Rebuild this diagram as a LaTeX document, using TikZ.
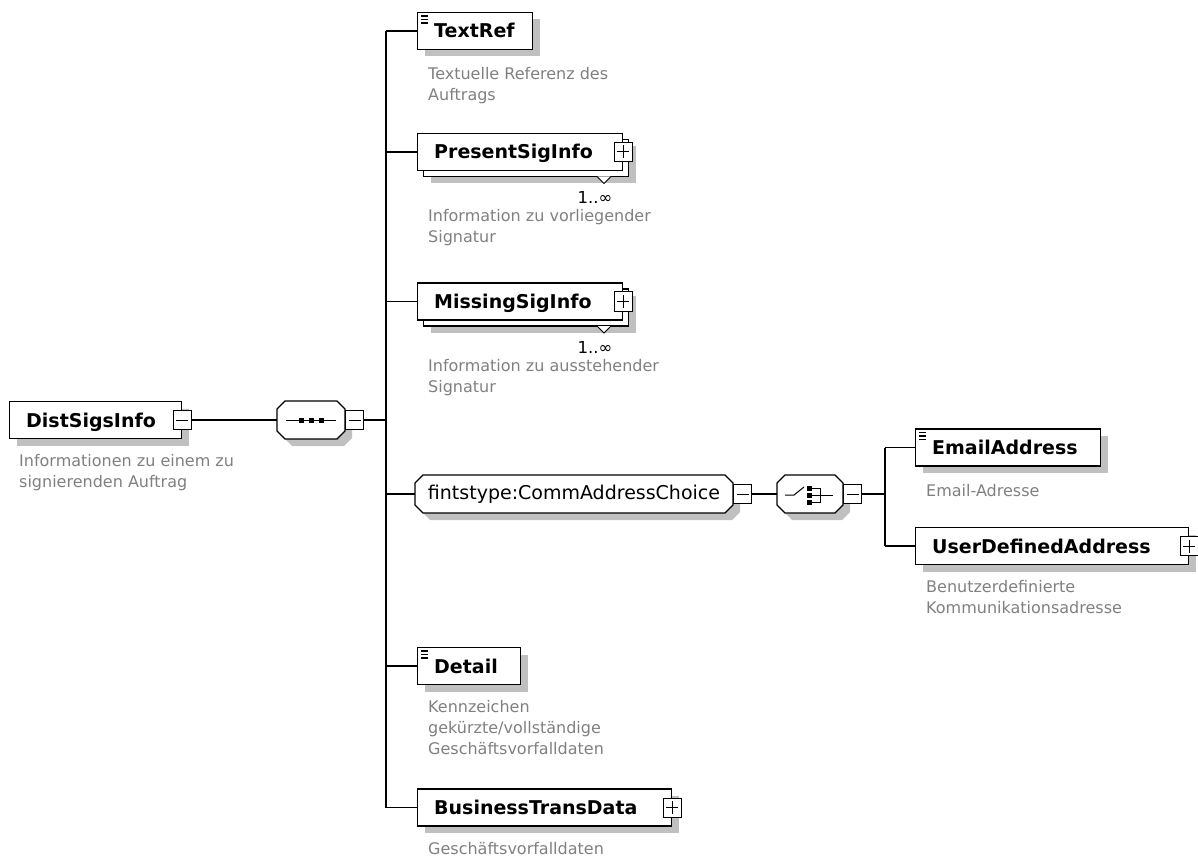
\documentclass[tikz,border=0pt]{standalone}
\usepackage{fontspec}
\setmainfont{DejaVu Sans}
\usetikzlibrary{positioning,shadows}
\definecolor{descgray}{RGB}{128,128,128}
\definecolor{shadowgray}{RGB}{192,192,192}
% octagon of a compositor or group: centre, half width, half height
\newcommand\grpoutline[3]{%
  \begin{scope}[shift={#1}]
    \fill[shadowgray] (-#2+15,-#3+7) -- (#2-1,-#3+7) -- (#2+7,-#3+15) -- (#2+7,#3-1)
      -- (#2-1,#3+7) -- (-#2+15,#3+7) -- (-#2+7,#3-1) -- (-#2+7,-#3+15) -- cycle;
    \draw[line width=1.1pt, fill=white] (-#2+8,-#3) -- (#2-8,-#3) -- (#2,-#3+8) -- (#2,#3-8)
      -- (#2-8,#3) -- (-#2+8,#3) -- (-#2,#3-8) -- (-#2,-#3+8) -- cycle;
  \end{scope}}
\tikzset{
  conn/.style={line width=1.3pt},
  box/.style={draw, line width=1.4pt, fill=white, anchor=west, minimum height=37pt,
    inner ysep=0pt, inner xsep=16.5pt, text height=15.5pt, text depth=1.5pt, align=left,
    font=\fontsize{19}{23}\selectfont\bfseries},
  elem/.style={box, general shadow={fill=shadowgray, shadow xshift=7pt, shadow yshift=-7pt}},
  simple/.style={elem, path picture={
    \foreach \dy in {3.5,7,10.5}
      \draw[line width=1.2pt] ([xshift=3.5pt,yshift=-\dy pt]path picture bounding box.north west) -- +(7pt,0pt);}},
  multi/.style={box,
    general shadow={fill=shadowgray, shadow xshift=13pt, shadow yshift=-13pt},
    general shadow={draw=black, line width=1.4pt, fill=white, shadow xshift=6pt, shadow yshift=-6pt}},
  grp/.style={minimum height=38pt, inner sep=0pt},
  btn/.style={draw, line width=1pt, fill=white, minimum width=18pt, minimum height=19pt, inner sep=0pt},
  minus/.style={btn, path picture={\draw[line width=1pt] ([xshift=3pt]path picture bounding box.west) -- ([xshift=-3pt]path picture bounding box.east);}},
  plus/.style={btn, path picture={\draw[line width=1pt] ([xshift=3pt]path picture bounding box.west) -- ([xshift=-3pt]path picture bounding box.east) ([yshift=3pt]path picture bounding box.south) -- ([yshift=-3pt]path picture bounding box.north);}},
  desc/.style={anchor=north west, inner sep=0pt, align=left, text=descgray, font=\fontsize{16}{21}\selectfont},
  occurs/.style={inner sep=0pt, font=\fontsize{16.5}{20}\selectfont}
}
\begin{document}
\begin{tikzpicture}[x=1pt,y=-1pt]
\useasboundingbox (0,0) rectangle (1198,858);
% root element and its sequence
\node[elem, text width=139pt] (dist) at (9,420) {DistSigsInfo};
\node[minus] (distbtn) at (dist.east) {};
\node[desc] (distdesc) at (19,454) {Informationen zu einem zu\\signierenden Auftrag};
\grpoutline{(311,420)}{34}{19}
\node[grp, minimum width=68pt] (seq) at (311,420) {};
\node[minus, anchor=west] (seqbtn) at (seq.east) {};
\begin{scope}[shift={(seq.center)}]
  \draw[line width=1pt] (-25,0) -- (25,0);
  \foreach \x in {-10,0,10}
    \fill (\x-2.5,-2.5) rectangle (\x+2.5,2.5);
\end{scope}
\coordinate (bus) at (386,420);
% children of the sequence
\node[simple, text width=82pt] (textref) at (417,31) {TextRef};
\node[desc] (textrefdesc) at (428,67) {Textuelle Referenz des\\Auftrags};
\node[multi, text width=172pt] (present) at (417,152) {PresentSigInfo};
\node[plus] (presentbtn) at (present.east) {};
\draw[line width=1pt, fill=white] (597,176.5) -- (604,183.5) -- (611,176.5);
\node[occurs] (presentocc) at (595,197) {1..∞};
\node[desc] (presentdesc) at (428,209) {Information zu vorliegender\\Signatur};
\node[multi, text width=172pt] (missing) at (417,301.5) {MissingSigInfo};
\node[plus] (missingbtn) at (missing.east) {};
\draw[line width=1pt, fill=white] (597,326) -- (604,333) -- (611,326);
\node[occurs] (missingocc) at (595,347) {1..∞};
\node[desc] (missingdesc) at (428,359) {Information zu ausstehender\\Signatur};
\grpoutline{(574,494)}{159}{19}
\node[grp, minimum width=318pt, font=\fontsize{19}{23}\selectfont] (commgrp) at (574,494) {fintstype:CommAddressChoice};
\node[minus, anchor=west] (commgrpbtn) at (commgrp.east) {};
\node[simple, text width=70pt] (detail) at (417,666) {Detail};
\node[desc] (detaildesc) at (428,700) {Kennzeichen\\gekürzte/vollständige\\Geschäftsvorfalldaten};
\node[elem, text width=221pt] (btd) at (417,807.5) {BusinessTransData};
\node[plus] (btdbtn) at (btd.east) {};
\node[desc] (btddesc) at (428,842) {Geschäftsvorfalldaten};
% choice
\grpoutline{(810,494)}{33}{19}
\node[grp, minimum width=66pt] (choice) at (810,494) {};
\node[minus, anchor=west] (choicebtn) at (choice.east) {};
\begin{scope}[shift={(choice.center)}]
  \draw[line width=1pt] (-25,1) -- (-16,1) -- (-6,-7);
  \foreach \y in {-6,1,8}
    \fill (-3,\y-2.5) rectangle (2,\y+2.5);
  \draw[line width=1pt] (2,-6) -- (10,-6) -- (10,8) -- (2,8) (2,1) -- (23,1);
\end{scope}
\coordinate (bus2) at (885,494);
\node[simple, text width=152pt] (email) at (915,447.5) {EmailAddress};
\node[desc] (emaildesc) at (926,484) {Email-Adresse};
\node[elem, text width=240pt] (userdef) at (915,546) {UserDefinedAddress};
\node[plus] (userdefbtn) at (userdef.east) {};
\node[desc] (userdefdesc) at (926,580) {Benutzerdefinierte\\Kommunikationsadresse};
% connectors
\draw[conn] (distbtn.east) -- (seq.west);
\draw[conn] (seqbtn.east) -- (bus);
\draw[conn] (bus |- textref.west) -- (bus |- btd.west);
\foreach \n in {textref,present,missing,commgrp,detail,btd}
  \draw[conn] (bus |- \n.west) -- (\n.west);
\draw[conn] (commgrpbtn.east) -- (choice.west);
\draw[conn] (choicebtn.east) -- (bus2);
\draw[conn] (bus2 |- email.west) -- (bus2 |- userdef.west);
\foreach \n in {email,userdef}
  \draw[conn] (bus2 |- \n.west) -- (\n.west);
\end{tikzpicture}
\end{document}
